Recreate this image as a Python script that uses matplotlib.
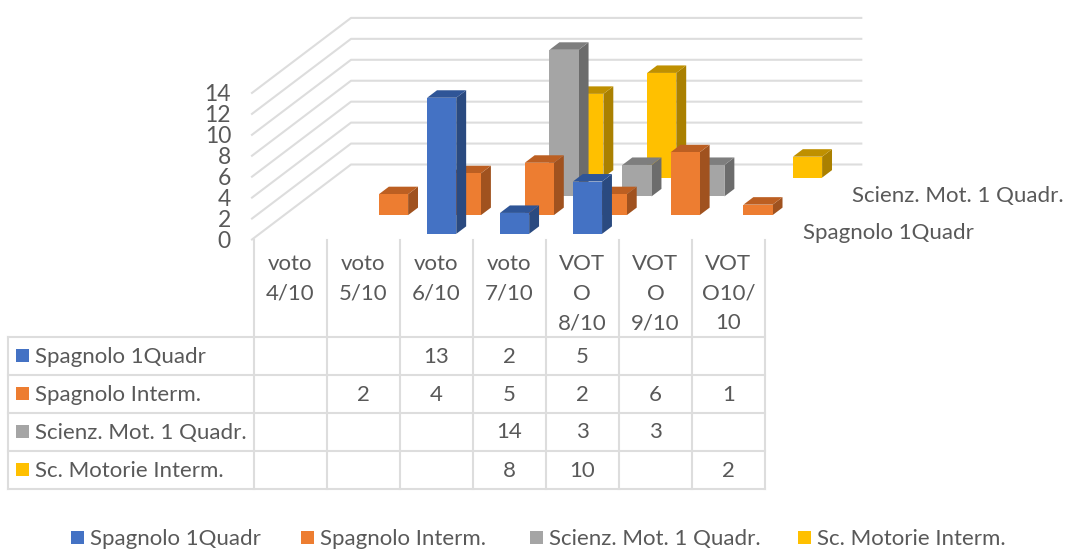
import matplotlib
matplotlib.use('Agg')
import matplotlib.pyplot as plt
from matplotlib.patches import Polygon, Rectangle

plt.rcParams['font.family'] = ['Lato', 'DejaVu Sans']

categories = ['voto\n4/10', 'voto\n5/10', 'voto\n6/10', 'voto\n7/10',
              'VOT\nO\n8/10', 'VOT\nO\n9/10', 'VOT\nO10/\n10']
series_names = ['Spagnolo 1Quadr', 'Spagnolo Interm.', 'Scienz. Mot. 1 Quadr.', 'Sc. Motorie Interm.']
spagnolo_1q = [None, None, 13, 2, 5, None, None]
spagnolo_int = [None, 2, 4, 5, 2, 6, 1]
scienze_1q = [None, None, None, 14, 3, 3, None]
scienze_int = [None, None, None, 8, 10, None, 2]
all_values = [spagnolo_1q, spagnolo_int, scienze_1q, scienze_int]
y_ticks = [0, 2, 4, 6, 8, 10, 12, 14]

front = ['#4472C4', '#ED7D31', '#A5A5A5', '#FFC000']
side = ['#2A4A80', '#A0521F', '#6C6C6C', '#AA8000']
top = ['#2F5597', '#BC5F22', '#7E7E7E', '#BF9000']
grid_col = '#DDDDDD'
text_col = '#595959'

X0, Y0 = 252.0, 239.5   # front corner of the floor, in pixels
CAT_W = 72.9
DEPTH_X, DEPTH_Y = 24.75, 18.75   # shift of one series going backwards
UNIT = 10.47
BAR = 0.4
GAP = 0.3
TABLE_X = 253.5
TABLE_W = 73.07
FS = 16


def project(cat, depth, value):
    return (X0 + cat * CAT_W + depth * DEPTH_X, Y0 - depth * DEPTH_Y - value * UNIT)


fig = plt.figure(figsize=(10.65, 5.5), dpi=100)
ax = fig.add_axes([0, 0, 1, 1])
ax.set_xlim(0, 1065)
ax.set_ylim(550, 0)
ax.axis('off')

n_cat = len(categories)
n_ser = len(series_names)

# walls
for v in y_ticks:
    a = project(0, 0, v)
    b = project(0, n_ser, v)
    c = project(n_cat, n_ser, v)
    ax.plot([a[0], b[0], c[0]], [a[1], b[1], c[1]], color=grid_col, lw=1.5, zorder=1)
    ax.text(231, a[1] + 1.5, str(v), ha='right', va='center', fontsize=16.5, color=text_col)

# bars, back series first
z = 2
for s in range(n_ser - 1, -1, -1):
    for c, val in enumerate(all_values[s]):
        if val is None:
            continue
        l = c + 0.5 - BAR / 2
        r = c + 0.5 + BAR / 2
        d0 = s + GAP
        d1 = s + 1 - GAP
        ax.add_patch(Polygon([project(r, d0, 0), project(r, d1, 0), project(r, d1, val), project(r, d0, val)],
                             closed=True, fc=side[s], ec='none', zorder=z))
        ax.add_patch(Polygon([project(l, d0, val), project(r, d0, val), project(r, d1, val), project(l, d1, val)],
                             closed=True, fc=top[s], ec='none', zorder=z))
        ax.add_patch(Polygon([project(l, d0, 0), project(r, d0, 0), project(r, d0, val), project(l, d0, val)],
                             closed=True, fc=front[s], ec='none', zorder=z))
    z += 1

# depth axis labels
ax.text(803, 233, series_names[0], ha='left', va='center', fontsize=FS, color=text_col)
ax.text(852, 196, 'Scienz. Mot. 1 Quadr.', ha='left', va='center', fontsize=FS, color=text_col)

# data table
row_y = [337, 375, 412.5, 450.5, 489]
left = 7.5
right = TABLE_X + n_cat * TABLE_W
for y in row_y:
    ax.plot([left, right], [y, y], color=grid_col, lw=1.5, zorder=1)
ax.plot([left, left], [row_y[0], row_y[-1]], color=grid_col, lw=1.5, zorder=1)
for c in range(n_cat + 1):
    x = TABLE_X + c * TABLE_W
    ax.plot([x, x], [240, row_y[-1]], color=grid_col, lw=1.5, zorder=1)

for c, cat in enumerate(categories):
    xc = TABLE_X + (c + 0.5) * TABLE_W
    for i, line in enumerate(cat.split('\n')):
        ax.text(xc, 264 + i * 29.5, line, ha='center', va='center', fontsize=FS, color=text_col)

for s, name in enumerate(series_names):
    yc = (row_y[s] + row_y[s + 1]) / 2
    ax.add_patch(Rectangle((15.5, yc - 7), 13, 13, fc=front[s], ec='none'))
    ax.text(35, yc + 1, name, ha='left', va='center', fontsize=FS, color=text_col)
    for c, val in enumerate(all_values[s]):
        if val is not None:
            ax.text(TABLE_X + (c + 0.5) * TABLE_W, yc + 1, str(val), ha='center', va='center', fontsize=FS, color=text_col)

# legend
legend_x = [71, 301, 530, 798]
for s, name in enumerate(series_names):
    ax.add_patch(Rectangle((legend_x[s], 531), 13, 13, fc=front[s], ec='none'))
    ax.text(legend_x[s] + 19, 539, name, ha='left', va='center', fontsize=FS, color=text_col)

fig.savefig('out.png', dpi=100)
